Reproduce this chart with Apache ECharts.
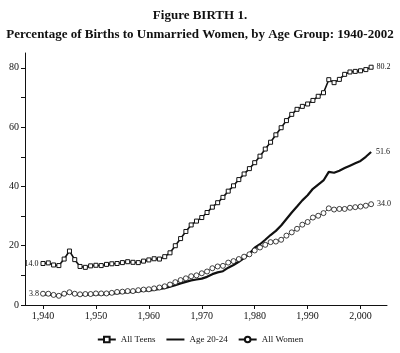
<!DOCTYPE html>
<html lang="en">
  <head>
    <meta charset="UTF-8" />
    <title>Figure BIRTH 1</title>
    <script src="https://cdn.jsdelivr.net/npm/echarts@6/dist/echarts.min.js"></script>
    <style>
      html, body { margin: 0; padding: 0; background: #fff; }
      #main { width: 400px; height: 353px; }
    </style>
  </head>
  <body>
    <div id="main"></div>
    <script>
      const years = []
      for (let y = 1940; y <= 2002; y++) years.push(y)

      // percentages, 1940-2002
      const allTeens = [
        14.0, 14.2, 13.5, 13.3, 15.5, 18.2, 15.3, 13.0, 12.7, 13.2,
        13.4, 13.3, 13.7, 13.9, 14.0, 14.3, 14.6, 14.4, 14.3, 14.8,
        15.2, 15.6, 15.5, 16.3, 17.6, 20.0, 22.4, 24.8, 27.0, 28.3,
        29.5, 31.2, 33.0, 34.5, 36.3, 38.4, 40.2, 42.3, 44.2, 46.0,
        48.0, 50.2, 52.6, 54.9, 57.4, 59.8, 62.2, 64.3, 66.0, 67.0,
        67.8, 69.0, 70.4, 71.6, 76.0, 75.0, 76.1, 77.8, 78.6, 78.8,
        79.0, 79.4, 80.2
      ]
      const age2024 = [
        3.6, 3.5, 3.3, 3.2, 3.6, 4.2, 3.7, 3.4, 3.4, 3.5,
        3.6, 3.6, 3.7, 3.8, 4.0, 4.1, 4.3, 4.4, 4.6, 4.8,
        4.9, 5.1, 5.4, 5.7, 6.2, 6.7, 7.3, 7.8, 8.3, 8.6,
        8.9, 9.5, 10.4, 11.0, 11.4, 12.6, 13.5, 14.6, 15.8, 17.3,
        19.3, 20.5, 22.0, 23.6, 25.0, 26.8, 29.0, 31.2, 33.2, 35.3,
        37.0, 39.2, 40.6, 42.0, 44.9, 44.6, 45.3, 46.2, 47.0, 47.8,
        48.6, 50.0, 51.6
      ]
      const allWomen = [
        3.8, 3.8, 3.4, 3.1, 3.8, 4.3, 3.8, 3.6, 3.7, 3.7,
        3.9, 3.9, 3.9, 4.1, 4.4, 4.5, 4.7, 4.7, 5.0, 5.2,
        5.3, 5.6, 5.9, 6.3, 6.9, 7.7, 8.4, 9.0, 9.7, 10.0,
        10.7, 11.3, 12.4, 13.0, 13.2, 14.3, 14.8, 15.5, 16.3, 17.1,
        18.4, 19.4, 20.3, 21.2, 21.4, 22.0, 23.4, 24.5, 25.7, 27.1,
        28.0, 29.5, 30.1, 31.0, 32.6, 32.2, 32.4, 32.4, 32.8, 33.0,
        33.2, 33.5, 34.0
      ]
      const xTicks = [1940, 1950, 1960, 1970, 1980, 1990, 2000]
      const yTicks = [0, 10, 20, 30, 40, 50, 60, 70, 80]
      const yLabels = [0, 20, 40, 60, 80]

      const serif = 'Liberation Serif'
      const ink = '#111'

      const pairs = (vals) => years.map((y, i) => [y, vals[i]])

      // label only the first and last point; the first one sits to the left
      const endLabels = () => ({
        show: true,
        fontFamily: serif,
        fontSize: 8,
        color: ink,
        position: 'right',
        distance: 3,
        formatter: (p) => {
          if (p.dataIndex === 0 || p.dataIndex === years.length - 1) return p.value[1].toFixed(1)
          return ''
        }
      })
      const firstLeft = (p) => p.dataIndex === 0 ? { dx: -(p.labelRect.width + 10) } : {}

      const myChart = echarts.init(document.getElementById('main'))
      const option = {
        backgroundColor: '#fff',
        animation: false,
        title: [
          {
            text: 'Figure BIRTH 1.',
            left: 'center',
            top: 4,
            textStyle: { fontFamily: serif, fontWeight: 'bold', fontSize: 13, color: ink }
          },
          {
            text: 'Percentage of Births to Unmarried Women, by Age Group: 1940-2002',
            left: 'center',
            top: 23,
            textStyle: { fontFamily: serif, fontWeight: 'bold', fontSize: 13, color: ink }
          }
        ],
        legend: {
          bottom: 4,
          left: 'center',
          itemWidth: 18,
          itemHeight: 7,
          itemGap: 10,
          textStyle: { fontFamily: serif, fontSize: 9, color: ink },
          data: [
            'All Teens',
            { name: 'Age 20-24', itemStyle: { opacity: 0 } },
            'All Women'
          ]
        },
        grid: { left: 25, right: 13, top: 53, bottom: 48 },
        xAxis: {
          type: 'value',
          min: 1936.6,
          max: 2005,
          splitLine: { show: false },
          axisLine: { lineStyle: { color: ink, width: 1 } },
          axisTick: { customValues: xTicks, length: 4, lineStyle: { color: ink } },
          axisLabel: {
            customValues: xTicks,
            fontFamily: serif,
            fontSize: 10,
            color: ink,
            margin: 6
          }
        },
        yAxis: {
          type: 'value',
          min: 0,
          max: 85,
          splitLine: { show: false },
          axisLine: { show: true, lineStyle: { color: ink, width: 1 } },
          axisTick: { show: true, customValues: yTicks, length: 4, lineStyle: { color: ink } },
          axisLabel: {
            customValues: yLabels,
            fontFamily: serif,
            fontSize: 10,
            color: ink,
            margin: 6
          }
        },
        series: [
          {
            name: 'All Teens',
            type: 'line',
            data: pairs(allTeens),
            symbol: 'rect',
            symbolSize: 4,
            showAllSymbol: true,
            itemStyle: { color: '#fff', borderColor: ink, borderWidth: 1 },
            lineStyle: { color: ink, width: 1.6 },
            label: endLabels(),
            labelLayout: firstLeft
          },
          {
            name: 'Age 20-24',
            type: 'line',
            data: pairs(age2024),
            symbol: 'none',
            itemStyle: { color: ink },
            lineStyle: { color: ink, width: 2.2 },
            endLabel: {
              show: true,
              fontFamily: serif,
              fontSize: 8,
              color: ink,
              distance: 5,
              formatter: (p) => p.value[1].toFixed(1)
            }
          },
          {
            name: 'All Women',
            type: 'line',
            data: pairs(allWomen),
            symbol: 'circle',
            symbolSize: 5,
            showAllSymbol: true,
            itemStyle: { color: '#fff', borderColor: ink, borderWidth: 0.8 },
            lineStyle: { color: ink, width: 0.8 },
            label: endLabels(),
            labelLayout: firstLeft
          }
        ]
      }
      myChart.setOption(option)
    </script>
  </body>
</html>
